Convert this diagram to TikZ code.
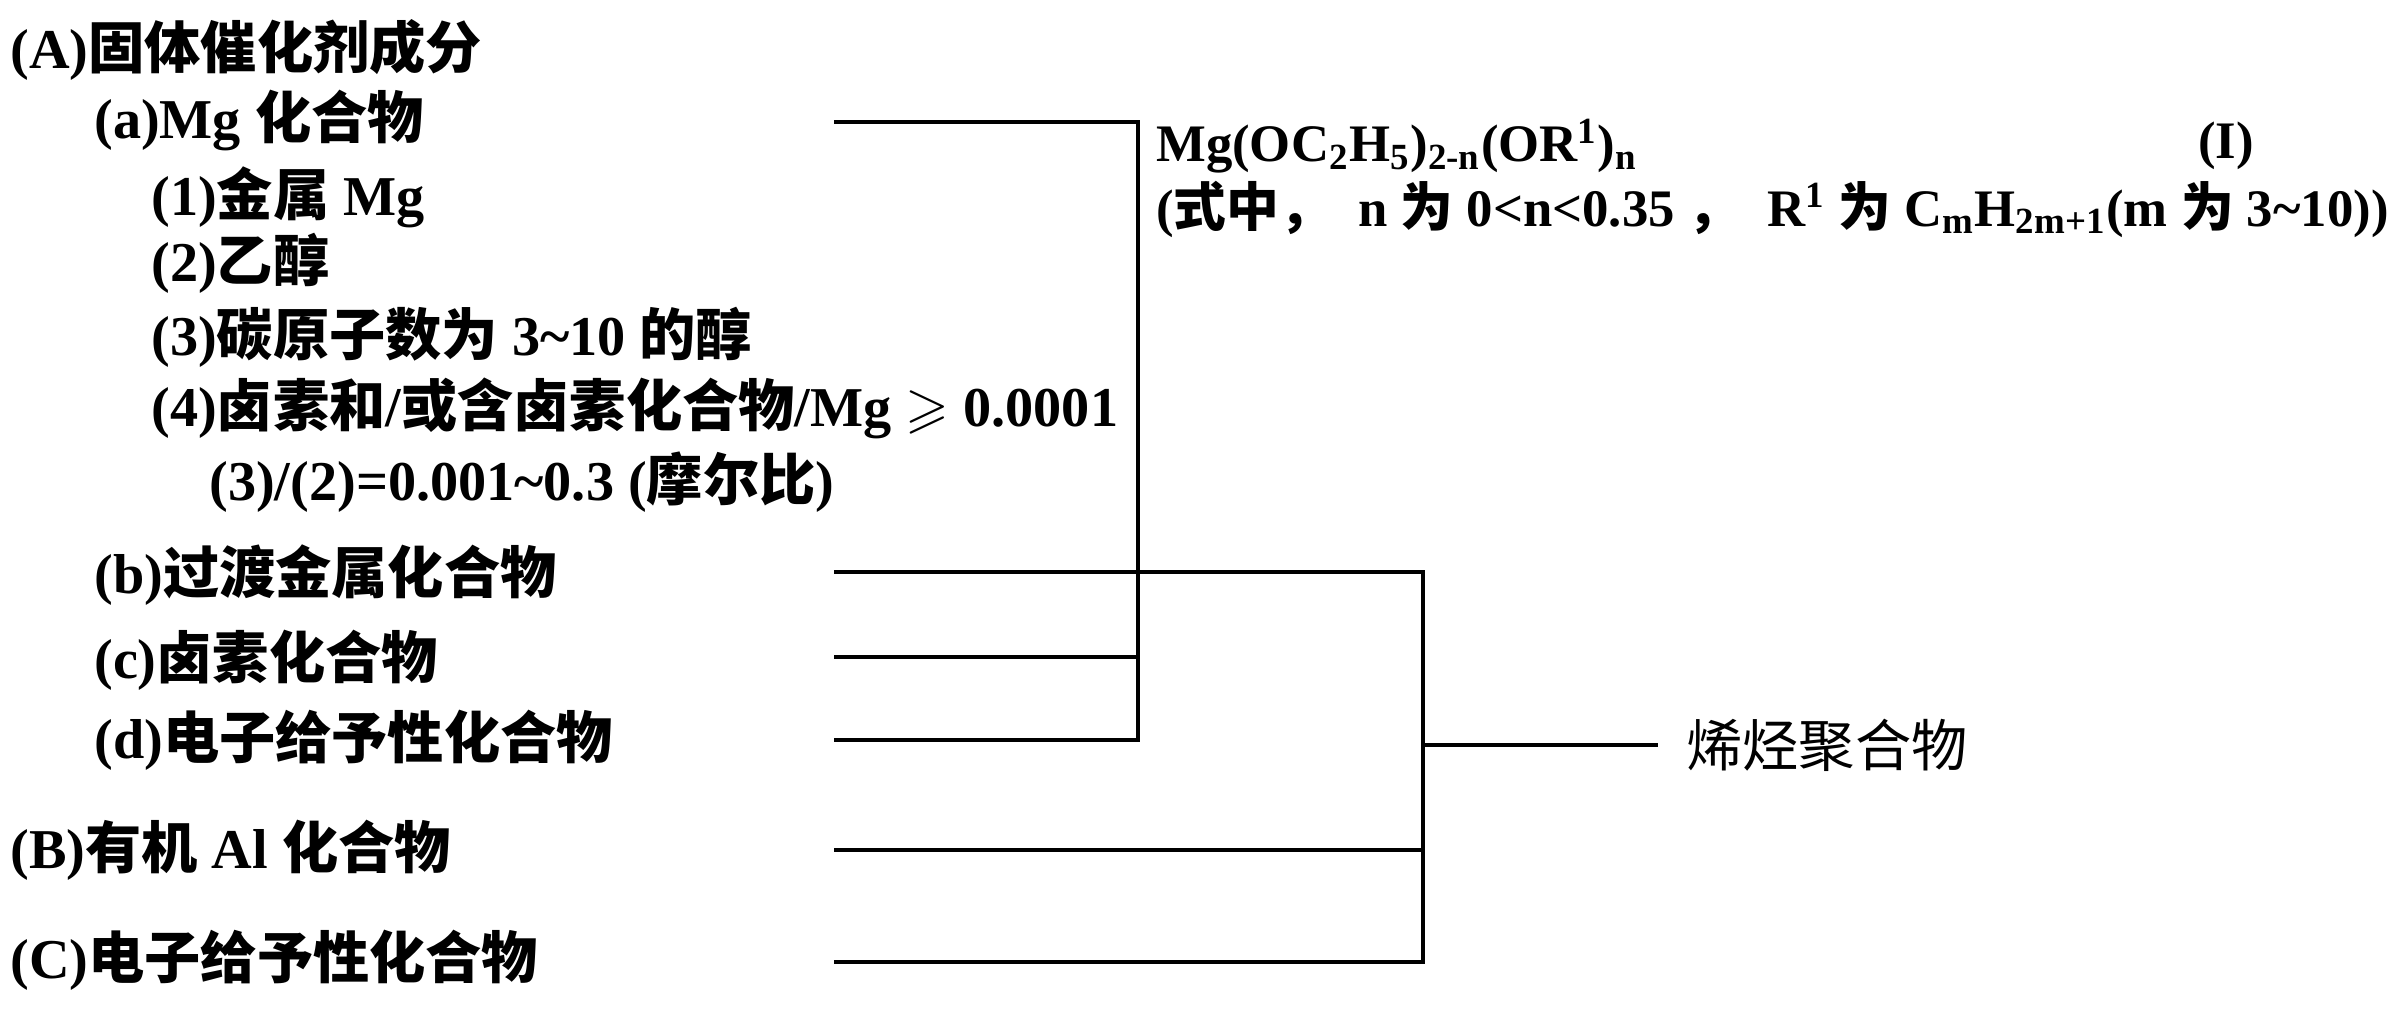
\documentclass[tikz,border=0pt]{standalone}
\usepackage{amssymb}
\usepackage{fontspec}
\setmainfont{Liberation Serif}
\newfontfamily\cjk{Noto Sans CJK SC}
\newcommand\zh[1]{{\cjk #1}}
\newcommand\tld{\textasciitilde}

\begin{document}
\begin{tikzpicture}[line width=1.3pt,
	every node/.style={anchor=west,inner sep=0pt,font=\fontsize{16}{19}\selectfont\bfseries},
	formula/.style={font=\fontsize{15}{18}\selectfont\bfseries}]
	\useasboundingbox (0,0) rectangle (24.08,-10.09);
	%LEFT COLUMN
	\node (A) at (0.08,-0.50) {(A)\zh{固体催化剂成分}};
	\node (a) at (0.92,-1.20) {(a)Mg \zh{化合物}};
	\node (a1) at (1.49,-1.97) {(1)\zh{金属} Mg};
	\node (a2) at (1.49,-2.63) {(2)\zh{乙醇}};
	\node (a3) at (1.49,-3.37) {(3)\zh{碳原子数为} 3\tld10 \zh{的醇}};
	\node (a4) at (1.49,-4.08) {(4)\zh{卤素和}/\zh{或含卤素化合物}/Mg $\geqslant$ 0.0001};
	\node (ratio) at (2.07,-4.82) {(3)/(2)=0.001\tld0.3 (\zh{摩尔比})};
	\node (b) at (0.92,-5.75) {(b)\zh{过渡金属化合物}};
	\node (c) at (0.92,-6.60) {(c)\zh{卤素化合物}};
	\node (d) at (0.92,-7.40) {(d)\zh{电子给予性化合物}};
	\node (B) at (0.08,-8.50) {(B)\zh{有机} Al \zh{化合物}};
	\node (C) at (0.08,-9.60) {(C)\zh{电子给予性化合物}};
	%FORMULA (I)
	\node[formula] (form) at (11.54,-1.46) {Mg(OC\textsubscript{2}H\textsubscript{5})\textsubscript{2-n}(OR\textsuperscript{1})\textsubscript{n}};
	\node[formula] (I) at (21.96,-1.46) {(I)};
	\node[formula] (where) at (11.54,-2.09) {(\zh{式中，}\ \ n \zh{为} 0<n<0.35 \zh{，}\ \ R\textsuperscript{1} \zh{为} C\textsubscript{m}H\textsubscript{2m+1}(m \zh{为} 3\tld10))};
	%PRODUCT
	\node[font=\fontsize{16}{19}\selectfont] (P) at (16.84,-7.45) {\zh{烯烃聚合物}};
	%LINE ENDS
	\coordinate (la) at (8.34,-1.22);
	\coordinate (lb) at (8.34,-5.72);
	\coordinate (lc) at (8.34,-6.57);
	\coordinate (ld) at (8.34,-7.40);
	\coordinate (lB) at (8.34,-8.50);
	\coordinate (lC) at (8.34,-9.62);
	\coordinate (ja) at (11.38,-1.22);
	\coordinate (jd) at (11.38,-7.40);
	\coordinate (jb) at (14.23,-5.72);
	\coordinate (jC) at (14.23,-9.62);
	%BRACKETS
	\draw (la) -- (ja) -- (jd) -- (ld);
	\draw (lc) -- (lc -| ja);
	\draw (lb) -- (jb) -- (jC) -- (lC);
	\draw (lB) -- (lB -| jb);
	\draw[shorten >=2.6mm] (jb |- P) -- (P.west);
\end{tikzpicture}
\end{document}
